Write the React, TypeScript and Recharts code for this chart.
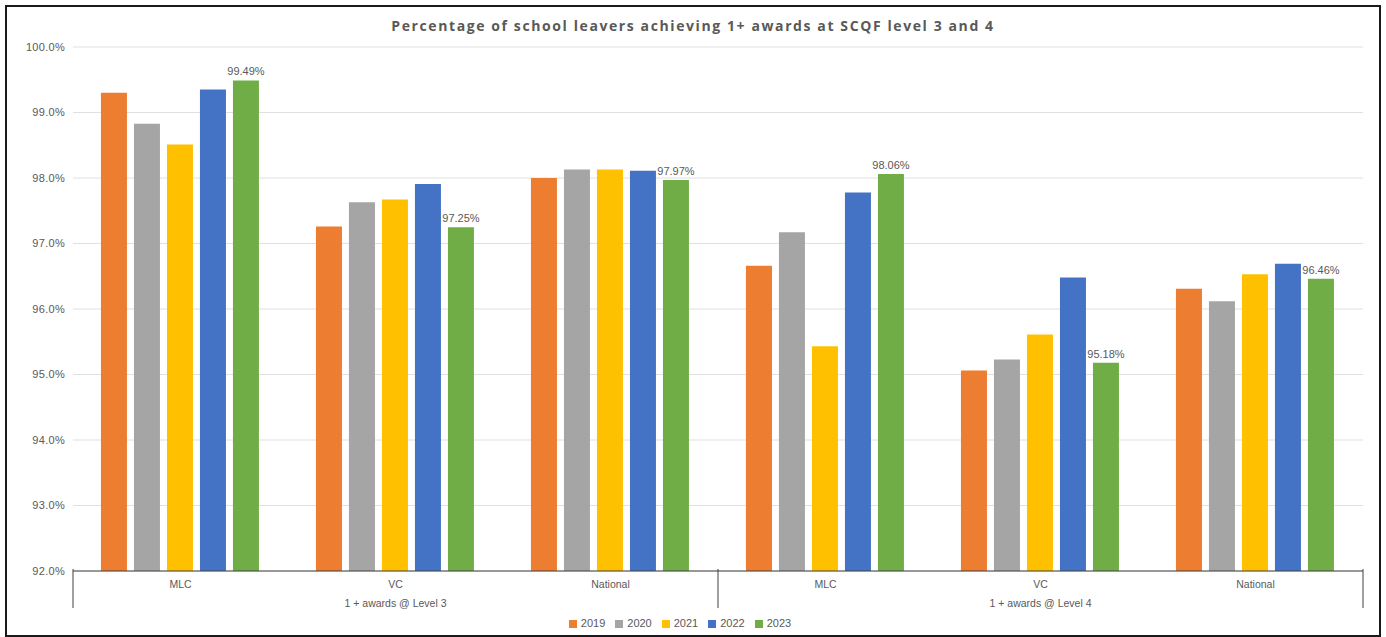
import { BarChart, Bar, XAxis, YAxis, CartesianGrid, Legend, LabelList } from 'recharts';

// Percentage of school leavers with 1+ awards, SCQF level 3 and 4
const sites = ['MLC', 'VC', 'National', 'MLC', 'VC', 'National'];
const groups = [
  '1 + awards @ Level 3', '1 + awards @ Level 3', '1 + awards @ Level 3',
  '1 + awards @ Level 4', '1 + awards @ Level 4', '1 + awards @ Level 4',
];
const y2019 = [99.3, 97.26, 98.0, 96.66, 95.06, 96.31];
const y2020 = [98.83, 97.63, 98.13, 97.17, 95.23, 96.12];
const y2021 = [98.51, 97.67, 98.13, 95.43, 95.61, 96.53];
const y2022 = [99.35, 97.91, 98.11, 97.78, 96.48, 96.69];
const y2023 = [99.49, 97.25, 97.97, 98.06, 95.18, 96.46];
const yTicks = [92, 93, 94, 95, 96, 97, 98, 99, 100];

const data = sites.map((site, i) => ({
  site,
  group: groups[i],
  y2019: y2019[i],
  y2020: y2020[i],
  y2021: y2021[i],
  y2022: y2022[i],
  y2023: y2023[i],
}));

const series = [
  { key: 'y2019', name: '2019', color: '#ED7D31' },
  { key: 'y2020', name: '2020', color: '#A5A5A5' },
  { key: 'y2021', name: '2021', color: '#FFC000' },
  { key: 'y2022', name: '2022', color: '#4472C4' },
  { key: 'y2023', name: '2023', color: '#70AD47' },
];

const W = 1372;
const H = 628;
const M = { top: 40, right: 16, left: 0, bottom: 6 };
const Y_W = 66;
const band = (W - M.left - M.right - Y_W) / sites.length;
const FONT = '"Liberation Sans", Arial, sans-serif';
const TEXT = '#595959';

// second axis row: group label under the middle category, separators at group edges
function GroupTick({ x, y, payload, index }: any) {
  const pos = index % 3;
  return (
    <g>
      {pos === 0 && (
        <line x1={x - band / 2} x2={x - band / 2} y1={y - 34} y2={y + 5} stroke="#404040" strokeWidth={1} />
      )}
      {index === sites.length - 1 && (
        <line x1={x + band / 2} x2={x + band / 2} y1={y - 34} y2={y + 5} stroke="#404040" strokeWidth={1} />
      )}
      {pos === 1 && (
        <text x={x} y={y} dy={4} textAnchor="middle" fill={TEXT} fontSize={10.5} fontFamily={FONT}>
          {payload.value}
        </text>
      )}
    </g>
  );
}

export default function App() {
  return (
    <div
      style={{
        position: 'absolute',
        left: 5,
        top: 5,
        width: W,
        height: H,
        border: '2px solid #1a1a1a',
        background: '#fff',
      }}
    >
      <div
        style={{
          position: 'absolute',
          top: 9,
          left: 0,
          width: '100%',
          textAlign: 'center',
          fontFamily: '"Open Sans", sans-serif',
          fontWeight: 700,
          fontSize: 14,
          letterSpacing: 1.6,
          color: TEXT,
        }}
      >
        Percentage of school leavers achieving 1+ awards at SCQF level 3 and 4
      </div>
      <BarChart width={W} height={H} data={data} margin={M} barGap={7} barCategoryGap="13%">
        <CartesianGrid vertical={false} stroke="#e0e0e0" />
        <YAxis
          width={Y_W}
          domain={[92, 100]}
          ticks={yTicks}
          allowDataOverflow
          axisLine={false}
          tickLine={false}
          tickFormatter={(v: number) => v.toFixed(1) + '%'}
          tick={{ fill: TEXT, fontSize: 11, fontFamily: FONT, letterSpacing: 0.3 }}
        />
        <XAxis
          xAxisId={0}
          dataKey="site"
          height={24}
          interval={0}
          tickLine={false}
          axisLine={{ stroke: '#404040' }}
          tick={{ fill: TEXT, fontSize: 10.5, fontFamily: FONT, dy: 2 }}
        />
        <XAxis
          xAxisId={1}
          dataKey="group"
          height={16}
          interval={0}
          tickLine={false}
          axisLine={false}
          allowDuplicatedCategory
          tick={<GroupTick />}
        />
        <Legend
          verticalAlign="bottom"
          iconType="square"
          iconSize={8}
          wrapperStyle={{ fontSize: 11, fontFamily: FONT, color: TEXT, paddingTop: 6 }}
          formatter={(v: string) => <span style={{ color: TEXT }}>{v}</span>}
        />
        {series.map((s) => (
          <Bar key={s.key} dataKey={s.key} name={s.name} fill={s.color} xAxisId={0} isAnimationActive={false}>
            {s.key === 'y2023' && (
              <LabelList
                dataKey={s.key}
                position="top"
                offset={5}
                fill={TEXT}
                fontSize={11}
                fontFamily={FONT}
                formatter={(v: number) => v.toFixed(2) + '%'}
              />
            )}
          </Bar>
        ))}
      </BarChart>
    </div>
  );
}
